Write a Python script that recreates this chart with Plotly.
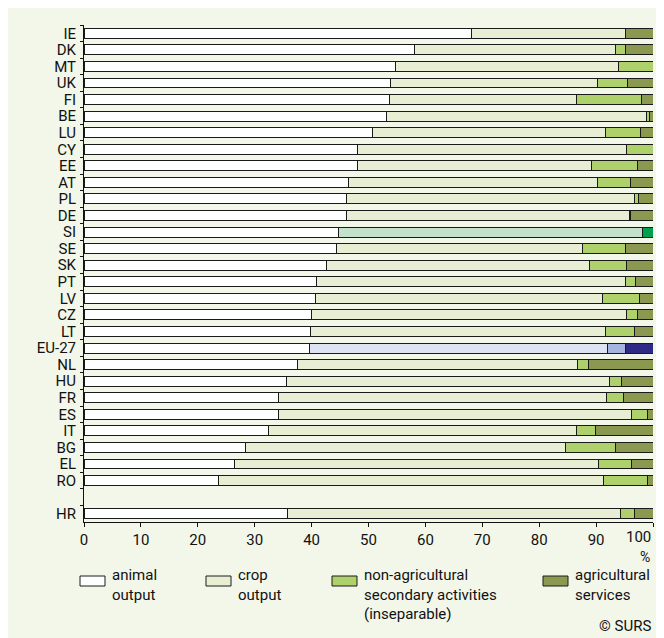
import plotly.graph_objects as go

countries = ["IE", "DK", "MT", "UK", "FI", "BE", "LU", "CY", "EE", "AT", "PL", "DE", "SI", "SE", "SK",
             "PT", "LV", "CZ", "LT", "EU-27", "NL", "HU", "FR", "ES", "IT", "BG", "EL", "RO", " ", "HR"]
animal = [68.1, 58.0, 54.8, 53.9, 53.7, 53.1, 50.7, 48.0, 48.0, 46.4, 46.2, 46.2, 44.7, 44.4, 42.7,
          40.9, 40.6, 39.9, 39.8, 39.6, 37.6, 35.6, 34.2, 34.2, 32.4, 28.3, 26.4, 23.7, None, 35.7]
crop = [27.0, 35.4, 39.2, 36.3, 32.8, 45.8, 41.0, 47.4, 41.2, 43.8, 50.6, 49.6, 53.5, 43.2, 46.1,
        54.3, 50.6, 55.5, 51.9, 52.4, 49.2, 56.7, 57.7, 62.1, 54.1, 56.4, 64.1, 67.6, None, 58.6]
nonagri = [None, 1.7, 6.0, 5.3, 11.4, 0.4, 6.1, 4.6, 8.1, 5.9, 0.7, 0.2, None, 7.5, 6.6,
           1.8, 6.4, 1.9, 5.0, 3.1, 1.8, 2.2, 3.0, 2.8, 3.4, 8.7, 5.8, 7.8, None, 2.4]
services = [4.9, 4.9, None, 4.5, 2.1, 0.7, 2.2, None, 2.7, 3.9, 2.5, 4.0, 1.8, 4.9, 4.6,
            3.0, 2.4, 2.7, 3.3, 4.9, 11.4, 5.5, 5.1, 0.9, 10.1, 6.6, 3.7, 0.9, None, 3.3]

series_names = ["animal<br>output", "crop<br>output",
                "non-agricultural<br>secondary activities<br>(inseparable)", "agricultural<br>services"]
x_ticks = [0, 10, 20, 30, 40, 50, 60, 70, 80, 90, 100]
x_tick_text = ["0", "10", "20", "30", "40", "50", "60", "70", "80", "90", ""]
last_tick_label = "100"

base_colors = ["#ffffff", "#e8eed3", "#afd16c", "#8b9850"]
si_colors = ["#ffffff", "#c4e1cb", "#afd16c", "#00a04f"]
eu_colors = ["#ffffff", "#dde3f3", "#a6b5df", "#2e2a86"]

FONT = "Roboto, sans-serif"
BG = "#f3f7ea"

fig = go.Figure()
for i, vals in enumerate([animal, crop, nonagri, services]):
    cols = []
    for c in countries:
        if c == "SI":
            cols.append(si_colors[i])
        elif c == "EU-27":
            cols.append(eu_colors[i])
        else:
            cols.append(base_colors[i])
    fig.add_trace(go.Bar(
        y=countries, x=vals, orientation="h",
        marker=dict(color=cols, line=dict(color="#1a1a1a", width=1)),
        showlegend=False, hoverinfo="skip"))

# page has an 8px body margin; the figure starts at page (8, 8)
W, H = 656, 630
L, R, T, B = 76, 11, 17, 116
pw, ph = W - L - R, H - T - B
OFF = 8


def xp(px):  # page x -> paper
    return (px - OFF - L) / pw


def yp(py):  # page y -> paper
    return (H - B - (py - OFF)) / ph


shapes = []
annotations = []
box_x = [80, 206, 332, 543]
for i, bx in enumerate(box_x):
    shapes.append(dict(type="rect", xref="paper", yref="paper", x0=xp(bx), x1=xp(bx + 25),
                       y0=yp(586), y1=yp(576), fillcolor=base_colors[i],
                       line=dict(color="#1a1a1a", width=1)))
    annotations.append(dict(xref="paper", yref="paper", x=xp(bx + 30), y=yp(564),
                            xanchor="left", yanchor="top", align="left", showarrow=False,
                            text=series_names[i], font=dict(family=FONT, size=15, color="#111")))
annotations.append(dict(xref="paper", yref="paper", x=xp(653), y=yp(537), xanchor="right",
                        yanchor="middle", showarrow=False, text=last_tick_label,
                        font=dict(family=FONT, size=15, color="#111")))
annotations.append(dict(xref="paper", yref="paper", x=xp(652), y=yp(547), xanchor="right",
                        yanchor="top", showarrow=False, text="%",
                        font=dict(family=FONT, size=14, color="#111")))
annotations.append(dict(xref="paper", yref="paper", x=xp(653), y=yp(626), xanchor="right",
                        yanchor="middle", showarrow=False, text="© SURS",
                        font=dict(family=FONT, size=15, color="#111")))

fig.update_layout(
    barmode="stack", bargap=0.4,
    width=W, height=H,
    margin=dict(l=L, r=R, t=T, b=B, pad=0, autoexpand=False),
    paper_bgcolor=BG, plot_bgcolor=BG,
    font=dict(family=FONT, size=15, color="#111"),
    shapes=shapes, annotations=annotations,
    xaxis=dict(range=[0, 100], tickmode="array", tickvals=x_ticks, ticktext=x_tick_text,
               ticks="outside", ticklen=4, tickcolor="#111",
               automargin=False,
               showline=True, linecolor="#111", linewidth=1, showgrid=False, zeroline=False,
               tickfont=dict(family=FONT, size=15, color="#111")),
    yaxis=dict(categoryorder="array", categoryarray=countries, autorange="reversed",
               tickmode="linear", tick0=0, dtick=1, automargin=False,
               ticks="outside", tickson="boundaries", ticklen=3, tickcolor="#111",
               showline=True, linecolor="#111", linewidth=1, showgrid=False, zeroline=False,
               tickfont=dict(family=FONT, size=15, color="#111"), ticklabelstandoff=4),
)

fig.write_html("out.html")
